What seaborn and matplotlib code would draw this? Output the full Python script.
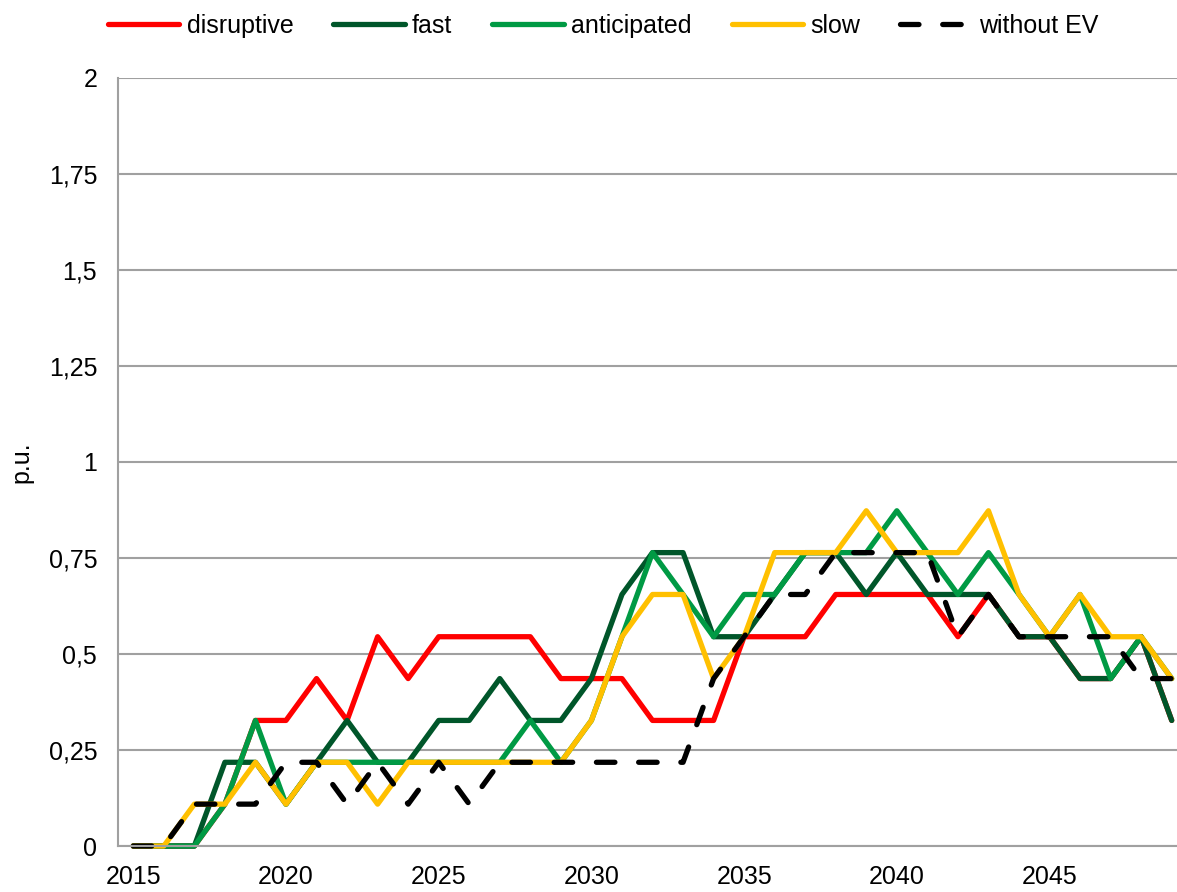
import numpy as np
import pandas as pd
import seaborn as sns
import matplotlib.pyplot as plt
from matplotlib.ticker import FixedLocator, FuncFormatter

years = list(range(2015, 2050))

disruptive = [0, 0, 0, 0.109, 0.327, 0.327, 0.436, 0.327, 0.545, 0.436,
              0.545, 0.545, 0.545, 0.545, 0.436, 0.436, 0.436, 0.327, 0.327, 0.327,
              0.545, 0.545, 0.545, 0.655, 0.655, 0.655, 0.655, 0.545, 0.655, 0.545,
              0.545, 0.436, 0.436, 0.545, 0.327]
fast = [0, 0, 0, 0.218, 0.218, 0.109, 0.218, 0.327, 0.218, 0.218,
        0.327, 0.327, 0.436, 0.327, 0.327, 0.436, 0.655, 0.764, 0.764, 0.545,
        0.545, 0.655, 0.764, 0.764, 0.655, 0.764, 0.655, 0.655, 0.655, 0.545,
        0.545, 0.436, 0.436, 0.545, 0.327]
anticipated = [0, 0, 0, 0.109, 0.327, 0.109, 0.218, 0.218, 0.218, 0.218,
               0.218, 0.218, 0.218, 0.327, 0.218, 0.327, 0.545, 0.764, 0.655, 0.545,
               0.655, 0.655, 0.764, 0.764, 0.764, 0.873, 0.764, 0.655, 0.764, 0.655,
               0.545, 0.655, 0.436, 0.545, 0.436]
slow = [0, 0, 0.109, 0.109, 0.218, 0.109, 0.218, 0.218, 0.109, 0.218,
        0.218, 0.218, 0.218, 0.218, 0.218, 0.327, 0.545, 0.655, 0.655, 0.436,
        0.545, 0.764, 0.764, 0.764, 0.873, 0.764, 0.764, 0.764, 0.873, 0.655,
        0.545, 0.655, 0.545, 0.545, 0.436]
without_ev = [0, 0, 0.109, 0.109, 0.109, 0.218, 0.218, 0.109, 0.218, 0.109,
              0.218, 0.109, 0.218, 0.218, 0.218, 0.218, 0.218, 0.218, 0.218, 0.436,
              0.545, 0.655, 0.655, 0.764, 0.764, 0.764, 0.764, 0.545, 0.655, 0.545,
              0.545, 0.545, 0.545, 0.436, 0.436]

names = ["disruptive", "fast", "anticipated", "slow", "without EV"]
colors = ["#FF0000", "#00562A", "#009A44", "#FFC000", "#000000"]

df = pd.DataFrame({"year": years, "disruptive": disruptive, "fast": fast,
                   "anticipated": anticipated, "slow": slow, "without EV": without_ev})
long = df.melt(id_vars="year", var_name="scenario", value_name="pu")

sns.set_style("white")
plt.rcParams['font.family'] = ['Liberation Sans', 'DejaVu Sans']
plt.rcParams['text.color'] = 'black'
plt.rcParams['xtick.color'] = 'black'
plt.rcParams['ytick.color'] = 'black'

fs = 18

fig = plt.figure(figsize=(11.77, 8.92), dpi=100)
ax = fig.add_axes([118 / 1177, 46 / 892, 1069 / 1177, 768 / 892])

for name, col in zip(names, colors):
    sub = long[long["scenario"] == name]
    if name == "without EV":
        sns.lineplot(data=sub, x="year", y="pu", ax=ax, color=col, lw=3.8,
                     label=name, clip_on=False)
        l = ax.lines[-1]
        l.set_dashes((3.5, 4.5))
        l.set_dash_capstyle("round")
    else:
        sns.lineplot(data=sub, x="year", y="pu", ax=ax, color=col, lw=3.8,
                     label=name, clip_on=False, solid_capstyle="round")

ax.set_xlim(2014.5, 2049.5)
ax.set_ylim(0, 2)

yt = np.arange(0, 2.01, 0.25)
ax.set_yticks(yt)
ax.yaxis.set_major_formatter(FuncFormatter(lambda v, p: ("%g" % v).replace(".", ",")))
ax.yaxis.grid(True, color="#A0A0A0", lw=1.5)
ax.set_axisbelow(True)

ax.set_xticks(list(range(2015, 2050, 5)))
ax.xaxis.set_minor_locator(FixedLocator(np.arange(2014.5, 2050, 1)))
ax.tick_params(axis="x", which="major", length=0, pad=14, labelsize=fs)
ax.tick_params(axis="x", which="minor", length=6, width=1.5, color="#A0A0A0", direction="out")
ax.tick_params(axis="y", which="major", length=6, width=1.5, color="#A0A0A0",
               direction="out", labelsize=fs, pad=9)

for s in ["top", "right"]:
    ax.spines[s].set_visible(False)
for s in ["left", "bottom"]:
    ax.spines[s].set_color("#A0A0A0")
    ax.spines[s].set_linewidth(1.5)

ax.set_xlabel("")
ax.set_ylabel("")
fig.text(21 / 1177, 1 - 462 / 892, "p.u.", rotation=90, ha="center", va="center", fontsize=fs)

handles, labels = ax.get_legend_handles_labels()
ax.get_legend().remove()
fig.legend(handles, labels, loc="upper center", bbox_to_anchor=(603 / 1177, 1.01),
           ncol=5, frameon=False, fontsize=fs, handlelength=2.85, handletextpad=0.3,
           columnspacing=1.6)

plt.savefig("out.png", dpi=100)
